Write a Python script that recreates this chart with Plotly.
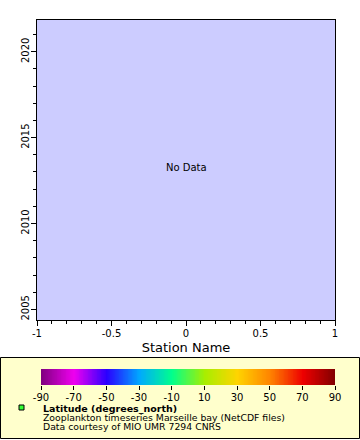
import numpy as np
import plotly.graph_objects as go

W, H = 360, 440

# ---- data / labels ----
x_tick_vals = [-1, -0.5, 0, 0.5, 1]
x_tick_text = ["-1", "-0.5", "0", "0.5", "1"]
y_tick_vals = [2005, 2010, 2015, 2020]
y_tick_text = ["2005", "2010", "2015", "2020"]
y_range = [2004.38, 2021.85]
x_range = [-1, 1]
station_x = []
time_y = []

cbar_ticks = [-90, -70, -50, -30, -10, 10, 30, 50, 70, 90]
cbar_text = ["-90", "-70", "-50", "-30", "-10", "10", "30", "50", "70", "90"]
cbar_colors = ["#800080", "#f000f0", "#2a00ff", "#00a8ff", "#00ff8c",
               "#a8ee00", "#ffd400", "#ff8400", "#ee0000", "#800000"]
cbar_values = np.linspace(-90, 90, 361)

legend_title = "Latitude (degrees_north)"
legend_lines = ["Zooplankton timeseries Marseille bay (NetCDF files)",
                "Data courtesy of MIO UMR 7294 CNRS"]

FONT = "DejaVu Sans"

def px(x):
    return x / W

def py(y):
    return 1 - y / H

fig = go.Figure()

fig.add_trace(go.Scatter(x=station_x, y=time_y, mode="markers",
                         showlegend=False, xaxis="x", yaxis="y"))

n = len(cbar_colors)
colorscale = [[i / (n - 1), c] for i, c in enumerate(cbar_colors)]
fig.add_trace(go.Heatmap(x=cbar_values, y=[0], z=[cbar_values],
                         colorscale=colorscale, zmin=-90, zmax=90,
                         showscale=False, zsmooth="best",
                         xaxis="x2", yaxis="y2", hoverinfo="skip"))

axis_common = dict(showline=True, linecolor="black", linewidth=1,
                   ticks="outside", ticklen=5, tickcolor="black",
                   showgrid=False, zeroline=False, automargin=False,
                   tickfont=dict(family=FONT, size=10, color="black"))

fig.update_layout(
    width=W, height=H,
    margin=dict(l=0, r=0, t=0, b=0, autoexpand=False),
    paper_bgcolor="white",
    plot_bgcolor="#ccccff",
    showlegend=False,
    xaxis=dict(domain=[px(37), px(335)], range=x_range, anchor="y",
               mirror=True, tickmode="array", tickvals=x_tick_vals,
               ticktext=x_tick_text,
               minor=dict(dtick=0.1, ticks="outside", ticklen=3,
                          tickcolor="black", showgrid=False),
               title=dict(text="Station Name",
                          font=dict(family=FONT, size=13, color="black"),
                          standoff=4),
               ticklabelstandoff=-1,
               **axis_common),
    yaxis=dict(domain=[py(320), py(20)], range=y_range, anchor="x",
               mirror=True, tickmode="array", tickvals=y_tick_vals,
               ticktext=y_tick_text, tickangle=-90,
               minor=dict(dtick=1, tick0=2000, ticks="outside", ticklen=3,
                          tickcolor="black", showgrid=False),
               ticklabelstandoff=-2,
               **axis_common),
    xaxis2=dict(domain=[px(41), px(335)], range=[-90, 90], anchor="y2",
                showline=False, ticks="outside", ticklen=4, automargin=False,
                tickcolor="black", showgrid=False, zeroline=False,
                tickmode="array", tickvals=cbar_ticks, ticktext=cbar_text,
                tickfont=dict(family=FONT, size=10, color="black"),
                ticklabelstandoff=-1,
                fixedrange=True),
    yaxis2=dict(domain=[py(385), py(369)], range=[-0.5, 0.5], anchor="x2",
                showline=False, showticklabels=False, ticks="", automargin=False,
                showgrid=False, zeroline=False, fixedrange=True),
)

# legend box
fig.add_shape(type="rect", xref="paper", yref="paper",
              x0=px(0.5), x1=px(359.5), y0=py(438.5), y1=py(357.5),
              fillcolor="#ffffcc", line=dict(color="black", width=1),
              layer="below")
# legend symbol
fig.add_shape(type="rect", xref="paper", yref="paper",
              x0=px(19), x1=px(24), y0=py(410), y1=py(405),
              fillcolor="#33ff33", line=dict(color="black", width=1))

fig.add_annotation(x=0, y=(y_range[0] + y_range[1]) / 2 + 0.15, xref="x", yref="y",
                   text="No Data", showarrow=False,
                   font=dict(family=FONT, size=10, color="black"))

fig.add_annotation(x=px(42), y=py(408.3), xref="paper", yref="paper",
                   xanchor="left", yanchor="middle", showarrow=False,
                   borderpad=0,
                   text="<b>" + legend_title + "</b>",
                   font=dict(family=FONT, size=9.5, color="black"))
for i, line in enumerate(legend_lines):
    fig.add_annotation(x=px(42), y=py(417.5 + 8.6 * i), xref="paper", yref="paper",
                       xanchor="left", yanchor="middle", showarrow=False,
                       borderpad=0,
                       text=line,
                       font=dict(family=FONT, size=9.3, color="black"))

fig.write_html("out.html")
